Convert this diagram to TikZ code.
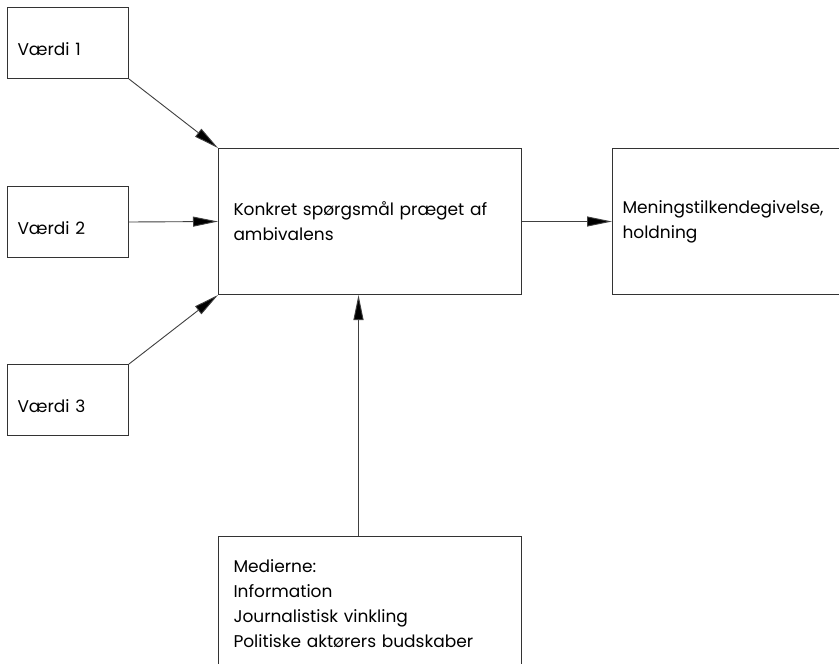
\documentclass[tikz,border=0pt]{standalone}
\usepackage{fontspec}
\setmainfont{Poppins}
\usepackage{tikz}
\usetikzlibrary{arrows.meta}
\usetikzlibrary{positioning}
\tikzstyle{box} = [draw=black!80, line width=1pt, rectangle, anchor=north west, align=left, font=\fontsize{17}{25}\selectfont]
\tikzstyle{vaerdi} = [box, minimum width=121pt, minimum height=71pt, inner xsep=10pt, text width=101pt, text height=25pt, text depth=0pt]
\tikzstyle{midbox} = [box, minimum width=303pt, minimum height=146pt, inner xsep=15pt, text width=273pt]
\tikzstyle{sidebox} = [box, minimum width=303pt, minimum height=146pt, inner xsep=10pt, text width=283pt]
\tikzstyle{mediabox} = [box, minimum width=303pt, minimum height=134pt, inner xsep=15pt, text width=273pt]
\tikzstyle{arrow} = [line width=0.9pt, draw=black!75, -{Triangle[length=25pt,width=10pt,fill=black]}]

\begin{document}
\begin{tikzpicture}[x=1pt,y=-1pt]
\useasboundingbox[fill=white] (0,0) rectangle (839,664);
\clip (0,0) rectangle (839,664);
\node[vaerdi] (v1) at (7,7) {Værdi 1};
\node[vaerdi] (v2) at (7,186) {Værdi 2};
\node[vaerdi] (v3) at (7,364) {Værdi 3};
\node[midbox] (sporgsmaal) at (218,148) {Konkret spørgsmål præget af\\ambivalens};
\node[sidebox] (holdning) at (612,148) {Meningstilkendegivelse,\\holdning};
\node[mediabox] (medier) at (218,536) {Medierne:\\Information\\Journalistisk vinkling\\Politiske aktørers budskaber};
\draw[arrow] (v1.south east) -- (sporgsmaal.north west);
\draw[arrow] (v2.east) -- (sporgsmaal.west);
\draw[arrow] (v3.north east) -- (sporgsmaal.south west);
\draw[arrow] (sporgsmaal.east) -- (holdning.west);
\draw[arrow] ([xshift=-11.5pt]medier.north) -- ([xshift=-11.5pt]sporgsmaal.south);
\end{tikzpicture}
\end{document}
